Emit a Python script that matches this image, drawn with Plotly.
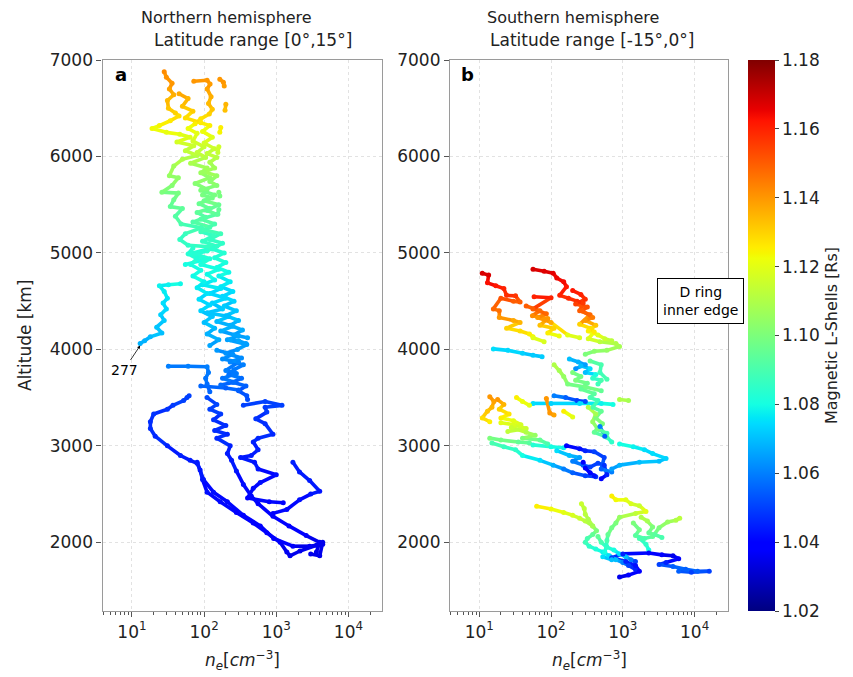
import numpy as np
import plotly.graph_objects as go
from plotly.colors import sample_colorscale

# ---------------- data: (n_e [cm^-3], altitude [km], L-shell [Rs]) ----------------
L_MIN, L_MAX = 1.02, 1.18
cbar_ticks = [1.02, 1.04, 1.06, 1.08, 1.10, 1.12, 1.14, 1.16, 1.18]
x_tick_vals = [10, 100, 1000, 10000]
x_tick_text = ["10<sup>1</sup>", "10<sup>2</sup>", "10<sup>3</sup>", "10<sup>4</sup>"]
y_tick_vals = [2000, 3000, 4000, 5000, 6000, 7000]

# Northern hemisphere (panel a)
north_left_column = [(28,6879,1.142),(30,6820,1.141),(36,6760,1.14),(33,6700,1.138),(38,6640,1.136),
    (31,6580,1.134),(32,6500,1.132),(40,6450,1.13),(45,6420,1.128),(34,6370,1.126),(24,6320,1.124),
    (19,6290,1.123),(30,6250,1.121),(46,6230,1.12),(64,6200,1.119),(42,6150,1.117),(72,6110,1.115),
    (55,6060,1.113),(80,6010,1.111),(50,5970,1.11),(38,5900,1.107),(33,5800,1.105),(44,5780,1.104),
    (36,5700,1.102),(26,5630,1.1),(44,5620,1.099),(38,5550,1.097),(34,5480,1.095),(50,5460,1.094),
    (40,5380,1.092),(48,5300,1.09),(92,5260,1.089),(55,5200,1.087),(46,5140,1.086),(60,5080,1.085),
    (140,5060,1.084),(70,5000,1.083),(100,4930,1.082),(55,4880,1.08)]
north_mid_column = [(72,6780,1.14),(110,6790,1.14),(121,6750,1.139),(110,6700,1.138),(125,6620,1.136),
    (115,6550,1.134),(130,6490,1.132),(118,6440,1.13),(90,6390,1.127),(75,6340,1.125),(60,6290,1.122),
    (80,6240,1.12),(70,6160,1.117),(100,6100,1.115),(80,6040,1.113),(105,5990,1.111),(65,5930,1.109),
    (110,5880,1.107),(90,5830,1.106),(120,5780,1.104),(75,5720,1.102),(110,5660,1.1),(95,5600,1.099),
    (130,5570,1.098),(85,5510,1.096),(120,5460,1.095),(80,5420,1.094),(105,5370,1.092),(70,5320,1.091),
    (120,5270,1.09),(90,5220,1.088),(135,5180,1.087),(95,5120,1.086),(150,5070,1.085),(110,5020,1.084),
    (75,4990,1.083),(120,4940,1.082),(90,4880,1.081),(160,4830,1.08),(110,4780,1.079),(140,4720,1.078),
    (95,4670,1.077),(170,4630,1.076),(120,4580,1.075),(200,4530,1.074),(130,4480,1.073),(180,4420,1.072),
    (110,4380,1.071),(220,4340,1.07),(150,4290,1.069),(250,4240,1.068),(170,4190,1.067),(300,4140,1.066),
    (210,4100,1.065),(390,4050,1.065),(290,4000,1.064),(200,3960,1.063),(330,3910,1.062),(230,3870,1.061),
    (350,3840,1.06),(260,3790,1.059),(220,3740,1.058),(330,3700,1.057),(250,3660,1.056),(380,3620,1.055),
    (300,3570,1.054),(390,3520,1.053),(400,3480,1.052)]
north_band_a = [(45,6650,1.137),(60,6600,1.135),(50,6520,1.133),(70,6470,1.131),(55,6400,1.128),
    (90,6350,1.126),(120,6320,1.125),(95,6260,1.122),(130,6200,1.119),(100,6140,1.117),(140,6080,1.115),
    (110,6030,1.113),(150,5990,1.111),(120,5940,1.109),(140,5880,1.107),(100,5840,1.106),(150,5800,1.105),
    (120,5740,1.103),(150,5700,1.102),(90,5650,1.1),(140,5600,1.099),(100,5540,1.097),(160,5500,1.096),
    (110,5440,1.094),(150,5400,1.093),(90,5350,1.092),(140,5300,1.09),(100,5240,1.089),(170,5200,1.088),
    (120,5140,1.086),(180,5100,1.085),(130,5040,1.084),(190,5000,1.083),(140,4950,1.082),(200,4900,1.081),
    (150,4850,1.08),(220,4800,1.079),(160,4760,1.078),(230,4700,1.077),(170,4650,1.076),(250,4600,1.075),
    (180,4550,1.074),(260,4500,1.073),(190,4450,1.072),(280,4400,1.071),(200,4350,1.07),(300,4300,1.069),
    (230,4250,1.068),(340,4200,1.067),(260,4150,1.066),(400,4120,1.066)]
north_band_b = [(70,5050,1.084),(60,4990,1.083),(80,4940,1.082),(65,4880,1.081),(90,4820,1.08),
    (70,4760,1.079),(100,4700,1.078),(80,4640,1.077),(110,4580,1.076),(85,4520,1.075),(120,4460,1.074),
    (90,4400,1.073),(130,4340,1.071),(100,4280,1.07),(140,4220,1.069),(110,4160,1.068),(160,4100,1.067),
    (120,4040,1.066)]
north_band_c = [(150,3990,1.064),(250,3950,1.063),(180,3900,1.062),(300,3870,1.061),(200,3780,1.06),
    (280,3750,1.059),(180,3700,1.058),(260,3660,1.057),(170,3630,1.057)]
north_right_branch = [(350,3420,1.05),(700,3460,1.05),(1200,3420,1.05),(700,3400,1.049),(740,3350,1.049),
    (520,3280,1.048),(700,3230,1.047),(900,3120,1.046),(560,3080,1.046),(480,3040,1.045),(560,2960,1.045),
    (450,2900,1.044),(320,2880,1.044),(500,2830,1.043),(560,2760,1.043),(1000,2700,1.042),(600,2620,1.042),
    (480,2560,1.041),(400,2460,1.04),(800,2420,1.04),(1250,2410,1.04)]
north_t_bar = [(32,3825,1.06),(60,3825,1.06),(110,3820,1.06),(115,3760,1.059),(105,3700,1.058),
    (110,3640,1.057),(120,3560,1.056)]
north_t_cross = [(90,3620,1.056),(200,3600,1.055),(300,3580,1.055)]
north_left_branch = [(47,4680,1.079),(32,4670,1.078),(24,4660,1.078),(28,4600,1.077),(31,4530,1.076),
    (27,4480,1.075),(30,4420,1.074),(25,4360,1.073),(28,4300,1.072),(22,4230,1.071),(26,4170,1.07),
    (18,4130,1.069),(15,4090,1.068),(13,4060,1.068)]
north_mid_blue = [(110,3500,1.052),(150,3430,1.051),(120,3380,1.05),(170,3330,1.049),(135,3270,1.048),
    (200,3210,1.047),(140,3160,1.047),(210,3120,1.046),(150,3080,1.046),(230,3000,1.045),(210,2920,1.044),
    (240,2850,1.044),(280,2740,1.043),(350,2600,1.042),(450,2480,1.041),(560,2400,1.04),(900,2270,1.039),
    (1500,2170,1.038),(2600,2070,1.037),(4000,2000,1.036),(3600,1900,1.035)]
north_outer_loop = [(62,3520,1.05),(58,3500,1.05),(52,3470,1.05),(37,3420,1.049),(31,3380,1.048),
    (20,3330,1.048),(18,3250,1.047),(18,3180,1.047),(21,3100,1.046),(31,3000,1.045),(47,2900,1.045),
    (64,2850,1.044),(80,2820,1.044),(88,2750,1.043),(95,2650,1.043),(110,2520,1.042),(167,2420,1.041),
    (280,2310,1.04),(480,2200,1.039),(740,2100,1.038),(1130,2000,1.037),(1400,1900,1.036),(1550,1860,1.035),
    (2130,1910,1.035),(3600,1970,1.035),(4400,2000,1.035),(4000,1860,1.035),(3000,1880,1.035)]
north_inner_loop = [(80,2830,1.044),(98,2650,1.043),(135,2520,1.042),(210,2420,1.041),(350,2280,1.04),
    (600,2170,1.039),(920,2040,1.038),(1700,1960,1.037),(2900,1960,1.036),(4400,1980,1.035)]
north_upper_right = [(1700,2830,1.045),(2100,2730,1.044),(2900,2640,1.044),(4000,2530,1.043),
    (3000,2500,1.043),(2100,2440,1.042),(1400,2340,1.041),(900,2300,1.04)]
north_blob_1 = [(165,6800,1.14),(185,6770,1.14),(190,6730,1.139)]
north_blob_2 = [(200,6540,1.135),(195,6480,1.133)]
north_blob_3 = [(170,6300,1.125),(165,6250,1.124)]
north_blob_4 = [(160,6100,1.116),(155,6040,1.114)]
north_blob_5 = [(160,5630,1.1),(165,5590,1.099)]
north_blob_6 = [(160,5450,1.095),(155,5400,1.094)]
north_blob_7 = [(230,4100,1.066),(300,4090,1.066),(380,4060,1.065)]

# Southern hemisphere (panel b)
south_top_left = [(11,4790,1.168),(13.5,4770,1.168),(13,4690,1.163),(17,4660,1.162),(22,4630,1.16),
    (24,4560,1.158),(32,4555,1.157),(37,4490,1.15),(30,4500,1.15),(20,4530,1.152),(15.7,4420,1.148),
    (19,4400,1.147),(19,4330,1.14),(30,4300,1.137),(37,4280,1.135),(24,4220,1.13),(37,4190,1.128),
    (50,4160,1.125),(56,4130,1.124),(56,4120,1.12),(80,4080,1.118)]
south_cyan_line = [(15.7,4005,1.075),(25,3990,1.074),(40,3960,1.073),(56,3940,1.072),(75,3925,1.072)]
south_top_right = [(56,4830,1.168),(80,4810,1.167),(107,4790,1.166),(120,4740,1.165),(150,4700,1.164),
    (164,4650,1.162),(132,4560,1.16),(175,4530,1.159),(230,4500,1.158),(280,4480,1.156),(250,4400,1.15),
    (350,4360,1.148),(250,4260,1.13),(350,4220,1.128),(400,4180,1.126),(330,4110,1.118),(480,4080,1.112),
    (800,4060,1.11),(900,4030,1.108),(600,3990,1.105),(400,3980,1.103),(300,3950,1.1)]
south_top_dense = [(200,4610,1.162),(260,4570,1.16),(300,4520,1.158),(220,4470,1.155),(320,4440,1.152),
    (270,4400,1.15),(380,4330,1.145),(300,4300,1.14),(420,4250,1.132),(330,4190,1.125),(450,4150,1.12),
    (560,4110,1.115),(700,4090,1.112)]
south_top_mid = [(58,4545,1.16),(100,4535,1.16),(56,4420,1.15),(86,4370,1.148),(65,4330,1.14),
    (100,4280,1.137),(170,4150,1.12),(250,4120,1.118)]
south_top_mid_b = [(45,4450,1.15),(70,4400,1.148),(55,4350,1.142),(90,4320,1.14),(70,4250,1.133),
    (110,4220,1.13),(90,4170,1.125),(130,4140,1.122)]
south_blue_blob = [(180,3900,1.07),(240,3870,1.068),(300,3840,1.065),(220,3800,1.063)]
south_green_a = [(110,3840,1.11),(130,3780,1.108),(150,3720,1.105),(170,3640,1.1),(300,3610,1.098),
    (500,3570,1.095)]
south_green_b = [(350,3880,1.095),(500,3840,1.09),(480,3760,1.088),(600,3690,1.09)]
south_green_c = [(200,3760,1.1),(260,3720,1.098),(220,3680,1.1),(320,3650,1.097),(260,3590,1.095),
    (400,3540,1.093),(350,3500,1.09),(450,3470,1.088),(380,3400,1.09),(500,3360,1.095),(420,3290,1.1),
    (520,3230,1.1),(460,3170,1.095),(600,3130,1.09)]
south_cyan_c = [(260,3830,1.07),(350,3800,1.075),(300,3760,1.07),(420,3740,1.08),(380,3700,1.085),
    (500,3680,1.09),(450,3640,1.088)]
south_blue_mid = [(110,3520,1.06),(160,3500,1.055),(230,3470,1.05),(300,3460,1.052)]
south_cyan_mid = [(56,3440,1.075),(100,3440,1.073),(250,3440,1.075),(500,3440,1.078),(730,3430,1.08)]
south_orange_mid = [(86,3490,1.14),(96,3340,1.14),(110,3320,1.138)]
south_yellow_mid = [(150,3360,1.125),(200,3300,1.12)]
south_yg_mid = [(330,3400,1.11),(420,3330,1.108),(380,3250,1.105),(440,3180,1.1),(400,3140,1.095),
    (600,3090,1.09),(700,3040,1.085)]
south_yg_right = [(900,3480,1.11),(1200,3470,1.108)]
south_left_orange = [(14,3510,1.14),(16,3460,1.138),(15,3400,1.135),(13,3360,1.132),(11,3290,1.128),
    (14,3250,1.125)]
south_left_yellow = [(33,3500,1.125),(40,3460,1.122),(50,3420,1.12)]
south_left_yg = [(20,3240,1.12),(30,3220,1.118),(45,3180,1.115),(25,3150,1.113)]
south_left_more = [(18,3480,1.14),(22,3430,1.135),(19,3380,1.13),(26,3330,1.127),(20,3290,1.125),
    (30,3260,1.12),(38,3220,1.117),(28,3190,1.115),(45,3140,1.11),(60,3110,1.105),(40,3080,1.1),
    (70,3060,1.095),(90,3020,1.09)]
south_left_green = [(14,3080,1.1),(20,3060,1.098),(35,3040,1.095),(50,3030,1.093)]
south_lower_loop = [(15,3030,1.09),(22,2990,1.087),(32,2960,1.085),(40,2900,1.08),(70,2850,1.075),
    (107,2800,1.068),(150,2760,1.06),(200,2720,1.055),(300,2690,1.05),(420,2680,1.048)]
south_cyan_b = [(56,3010,1.083),(100,2990,1.08),(150,2980,1.078)]
south_blue_d = [(120,2950,1.075),(180,2900,1.07),(250,2880,1.065),(200,2840,1.06),(280,2800,1.055),
    (350,2780,1.05),(450,2820,1.05),(550,2800,1.048),(600,2700,1.045),(500,2660,1.04)]
south_dark_a = [(280,2830,1.04),(300,2770,1.038),(350,2720,1.04),(400,2690,1.042)]
south_dark_b = [(164,3000,1.04),(250,2970,1.042),(300,2950,1.045),(400,2940,1.05),(550,2880,1.05),
    (500,2760,1.055),(700,2730,1.06)]
south_cyan_right = [(900,3020,1.08),(1400,2990,1.078),(2000,2960,1.075),(2600,2920,1.075),(4000,2870,1.073),
    (3200,2840,1.07),(1700,2830,1.07),(900,2800,1.068),(700,2760,1.065)]
south_blue_c = [(480,3200,1.06),(560,3100,1.055)]
south_yellow_line = [(63,2375,1.125),(100,2345,1.123),(150,2310,1.12),(200,2280,1.118),(250,2250,1.115),
    (300,2220,1.112),(380,2170,1.108),(430,2120,1.1),(380,2080,1.095),(320,2040,1.09),(300,2000,1.088),
    (340,1960,1.085),(420,1930,1.082),(525,1900,1.078),(650,1860,1.075),(800,1820,1.07),(1000,1790,1.06),
    (1200,1760,1.05),(1500,1720,1.045)]
south_hook = [(265,2400,1.115),(290,2350,1.113),(300,2290,1.112),(330,2240,1.11),(380,2170,1.108)]
south_yellow_cluster = [(700,2480,1.125),(800,2440,1.123),(1100,2440,1.12),(1300,2400,1.118),
    (1700,2380,1.115),(2100,2320,1.12),(1500,2300,1.113),(900,2260,1.105),(800,2200,1.1),(700,2150,1.098),
    (620,2080,1.095),(600,2020,1.09),(590,1960,1.085),(560,1900,1.08)]
south_right_strand = [(1400,2200,1.1),(1700,2130,1.098),(1500,2070,1.093),(2000,2040,1.09),(2600,2060,1.095),
    (3200,2150,1.1),(4200,2210,1.105),(5500,2230,1.11),(6200,2250,1.112)]
south_right_strand_b = [(1800,2260,1.11),(2200,2220,1.108),(2600,2160,1.1),(2300,2100,1.095),
    (2800,2080,1.093),(3500,2050,1.09)]
south_right_down = [(1700,2040,1.09),(2100,1980,1.085),(2300,1920,1.08)]
south_low_cyan = [(450,2060,1.095),(500,2000,1.09),(600,1950,1.085),(750,1920,1.08),(900,1880,1.075),
    (1100,1850,1.07),(1300,1820,1.06),(1500,1800,1.05)]
south_bottom = [(900,1640,1.035),(1200,1660,1.038),(1700,1700,1.04),(1500,1760,1.042),(1100,1800,1.045),
    (700,1840,1.05),(1000,1880,1.045),(2300,1890,1.04),(3500,1870,1.038),(5000,1860,1.035),(6000,1830,1.04),
    (4000,1790,1.045),(3200,1770,1.05),(5000,1750,1.055),(7500,1720,1.055),(11000,1700,1.055),
    (16000,1700,1.05),(9000,1690,1.05),(6000,1700,1.055)]
south_cyan_low = [(525,1850,1.075),(700,1820,1.07)]

north_strands = [north_left_column, north_mid_column, north_band_a, north_band_b, north_band_c,
    north_right_branch, north_t_bar, north_t_cross, north_left_branch, north_mid_blue, north_outer_loop,
    north_inner_loop, north_upper_right, north_blob_1, north_blob_2, north_blob_3, north_blob_4,
    north_blob_5, north_blob_6, north_blob_7]
south_strands = [south_top_left, south_cyan_line, south_top_right, south_top_dense, south_top_mid,
    south_top_mid_b, south_blue_blob, south_green_a, south_green_b, south_green_c, south_cyan_c,
    south_blue_mid, south_cyan_mid, south_orange_mid, south_yellow_mid, south_yg_mid, south_yg_right,
    south_left_orange, south_left_yellow, south_left_yg, south_left_more, south_left_green,
    south_lower_loop, south_cyan_b, south_blue_d, south_dark_a, south_dark_b, south_cyan_right,
    south_blue_c, south_yellow_line, south_hook, south_yellow_cluster, south_right_strand,
    south_right_strand_b, south_right_down, south_low_cyan, south_bottom, south_cyan_low]

# ---------------- figure ----------------
W, H = 853, 677
JET = [[0.0, 'rgb(0,0,128)'], [0.11, 'rgb(0,0,255)'], [0.125, 'rgb(0,0,255)'], [0.34, 'rgb(0,219,255)'],
       [0.35, 'rgb(0,230,247)'], [0.375, 'rgb(21,255,226)'], [0.64, 'rgb(239,255,8)'],
       [0.65, 'rgb(247,245,0)'], [0.66, 'rgb(255,236,0)'], [0.89, 'rgb(255,19,0)'],
       [0.91, 'rgb(232,0,0)'], [1.0, 'rgb(128,0,0)']]
FONT = "DejaVu Sans"
STEP = 0.003

fig = go.Figure()


def add_strands(strands, xa, ya, showscale):
    groups = {}
    for s in strands:
        for (x0, y0, l0), (x1, y1, l1) in zip(s[:-1], s[1:]):
            key = int(round(((l0 + l1) / 2 - L_MIN) / STEP))
            g = groups.setdefault(key, ([], []))
            g[0].extend([x0, x1, None])
            g[1].extend([y0, y1, None])
    for key in sorted(groups):
        xs, ys = groups[key]
        t = min(max(key * STEP / (L_MAX - L_MIN), 0), 1)
        col = sample_colorscale(JET, [t])[0]
        fig.add_trace(go.Scatter(x=xs, y=ys, mode='lines', xaxis=xa, yaxis=ya,
                                 line=dict(color=col, width=3.6), hoverinfo='skip', showlegend=False))
    pts = [p for s in strands for p in s]
    fig.add_trace(go.Scatter(
        x=[p[0] for p in pts], y=[p[1] for p in pts], mode='markers', xaxis=xa, yaxis=ya,
        marker=dict(size=5, color=[p[2] for p in pts], colorscale=JET, cmin=L_MIN, cmax=L_MAX,
                    showscale=showscale,
                    colorbar=dict(x=748 / W, xanchor='left', y=1 - 60 / H, yanchor='top',
                                  len=551 / H, lenmode='fraction', thickness=27, xpad=0, ypad=0,
                                  outlinewidth=0, ticks='outside', ticklen=4, tickcolor='#444',
                                  tickvals=cbar_ticks, tickformat='.2f',
                                  tickfont=dict(family=FONT, size=17, color='#222'),
                                  title=dict(text='Magnetic L-Shells [Rs]', side='right',
                                             font=dict(family=FONT, size=16, color='#222')))),
        showlegend=False, hoverinfo='skip'))


add_strands(north_strands, 'x', 'y', True)
add_strands(south_strands, 'x2', 'y2', False)

xr = [0.592, 4.465]
yr = [1288, 7000]
ydom = [1 - 611 / H, 1 - 60 / H]
axis_common = dict(showline=True, mirror=True, linecolor='#9a9a9a', linewidth=1.2, automargin=False,
                   ticks='outside', ticklen=5, tickcolor='#555', showgrid=True,
                   gridcolor='#e2e2e2', griddash='dot', gridwidth=1, zeroline=False,
                   tickfont=dict(family=FONT, size=17, color='#222'))
xax = dict(axis_common, type='log', range=xr, tickvals=x_tick_vals, ticktext=x_tick_text,
           minor=dict(ticks='outside', ticklen=3, tickcolor='#555', dtick='D1', showgrid=False))
yax = dict(axis_common, range=yr, tickvals=y_tick_vals)
fig.update_layout(
    width=W, height=H, margin=dict(l=0, r=0, t=0, b=0, autoexpand=False),
    paper_bgcolor='white', plot_bgcolor='white', showlegend=False,
    xaxis=dict(xax, domain=[102.5 / W, 382 / W], anchor='y'),
    yaxis=dict(yax, domain=ydom, anchor='x'),
    xaxis2=dict(xax, domain=[450 / W, 728 / W], anchor='y2'),
    yaxis2=dict(yax, domain=ydom, anchor='x2'),
)

ann = []


def txt(text, x, y, size=16, **kw):
    ann.append(dict(text=text, x=x / W, y=1 - y / H, xref='paper', yref='paper', showarrow=False,
                    xanchor='center', yanchor='middle',
                    font=dict(family=FONT, size=size, color=kw.pop('color', '#222')), **kw))


txt("Northern hemisphere", 226, 18)
txt("Latitude range [0°,15°]", 253, 40, size=17)
txt("Southern hemisphere", 573, 18)
txt("Latitude range [-15°,0°]", 592, 40, size=17)
txt("<b>a</b>", 121, 75, size=18, color='black')
txt("<b>b</b>", 468, 75, size=18, color='black')
txt("<i>n</i><sub><i>e</i></sub>[<i>cm</i><sup>−3</sup>]", 242, 660, size=17)
txt("<i>n</i><sub><i>e</i></sub>[<i>cm</i><sup>−3</sup>]", 589, 660, size=17)
txt("Altitude [km]", 25, 335, size=17, textangle=-90)
txt("D ring<br>inner edge", 700, 301, size=14, color='black', bordercolor='black', borderwidth=1,
    borderpad=5, bgcolor='white')
ann.append(dict(text="277", x=np.log10(13.0), y=4040, xref='x', yref='y', showarrow=True,
                ax=-16, ay=24, arrowhead=2, arrowsize=0.8, arrowwidth=0.8, arrowcolor='black',
                font=dict(family=FONT, size=14, color='black')))
fig.update_layout(annotations=ann)

fig.add_shape(type='line', xref='paper', yref='paper', x0=748 / W, x1=776 / W,
              y0=1 - 300 / H, y1=1 - 300 / H, line=dict(color='black', width=3.5, dash='dot'),
              layer='above')

fig.write_html("out.html", config={'displayModeBar': False},
               post_script="document.body.style.margin='0px';")
